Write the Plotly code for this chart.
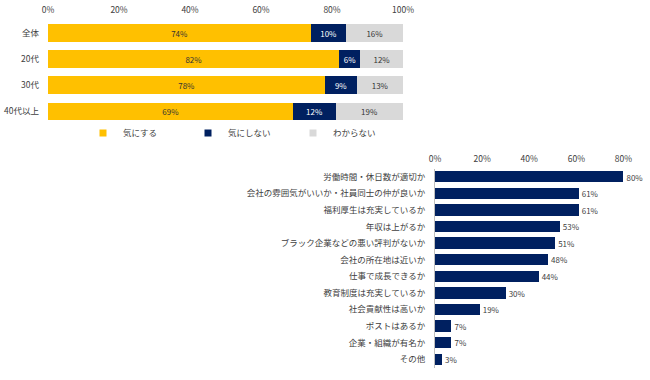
import plotly.graph_objects as go

# ---- data ----
age_groups = ["全体", "20代", "30代", "40代以上"]
care_yes = [74, 82, 78, 69]
care_no = [10, 6, 9, 12]
care_unknown = [16, 12, 13, 19]
series_names = ["気にする", "気にしない", "わからない"]

reasons = [
    "労働時間・休日数が適切か",
    "会社の雰囲気がいいか・社員同士の仲が良いか",
    "福利厚生は充実しているか",
    "年収は上がるか",
    "ブラック企業などの悪い評判がないか",
    "会社の所在地は近いか",
    "仕事で成長できるか",
    "教育制度は充実しているか",
    "社会貢献性は高いか",
    "ポストはあるか",
    "企業・組織が有名か",
    "その他",
]
reason_values = [80, 61, 61, 53, 51, 48, 44, 30, 19, 7, 7, 3]

top_ticks = [0, 20, 40, 60, 80, 100]
bottom_ticks = [0, 20, 40, 60, 80]

# ---- style ----
W, H = 650, 380
FONT = "Noto Sans CJK JP"
FS = 8.5
TXT = "#404040"
YELLOW = "#FFC000"
NAVY = "#002060"
GRAY = "#D9D9D9"
colors = [YELLOW, NAVY, GRAY]
text_colors = ["#333333", "#FFFFFF", "#333333"]

def px_x(p):
    return p / W

def px_y(p):
    return 1 - p / H

fig = go.Figure()

for name, vals, col, tc in zip(series_names, [care_yes, care_no, care_unknown], colors, text_colors):
    fig.add_trace(go.Bar(
        y=age_groups, x=vals, orientation="h", name=name,
        marker=dict(color=col, line=dict(width=0)),
        text=[f"{v}%" for v in vals], textposition="inside",
        insidetextanchor="middle",
        textfont=dict(family=FONT, size=FS, color=tc),
        xaxis="x", yaxis="y", showlegend=False, hoverinfo="skip",
    ))
    # legend proxies
    fig.add_trace(go.Scatter(
        x=[None], y=[None], mode="markers", name=name,
        marker=dict(symbol="square", size=7, color=col),
        xaxis="x", yaxis="y", showlegend=True, hoverinfo="skip",
    ))

fig.add_trace(go.Bar(
    y=reasons, x=reason_values, orientation="h",
    marker=dict(color=NAVY, line=dict(width=0)),
    text=[f"{v}%" for v in reason_values], textposition="outside",
    textfont=dict(family=FONT, size=FS, color=TXT),
    cliponaxis=False,
    xaxis="x2", yaxis="y2", showlegend=False, hoverinfo="skip",
))

axis_font = dict(family=FONT, size=FS, color=TXT)

fig.update_layout(
    width=W, height=H,
    margin=dict(l=0, r=0, t=0, b=0, autoexpand=False),
    paper_bgcolor="white", plot_bgcolor="white",
    barmode="stack",
    bargap=0.32,
    hovermode=False,
    font=dict(family=FONT, size=FS, color=TXT),
    xaxis=dict(
        domain=[px_x(48), px_x(403)], range=[0, 100], side="top",
        tickvals=top_ticks, ticktext=[f"{t}%" for t in top_ticks],
        showgrid=False, zeroline=False, showline=False, ticks="",
        tickfont=axis_font, ticklabelstandoff=4, anchor="y", automargin=False,
    ),
    yaxis=dict(
        domain=[px_y(124.5), px_y(20)], autorange="reversed",
        showgrid=False, zeroline=False, showline=False, ticks="",
        tickfont=axis_font, ticklabelstandoff=8, anchor="x", automargin=False,
    ),
    xaxis2=dict(
        domain=[px_x(435), px_x(647)], range=[0, 90], side="top",
        tickvals=bottom_ticks, ticktext=[f"{t}%" for t in bottom_ticks],
        showgrid=False, zeroline=False, showline=False, ticks="",
        tickfont=axis_font, ticklabelstandoff=4, anchor="y2", automargin=False,
    ),
    yaxis2=dict(
        domain=[px_y(367.5), px_y(168.5)], autorange="reversed",
        showgrid=False, zeroline=False, showline=True, linecolor="#BFBFBF", linewidth=1,
        ticks="", tickfont=axis_font, ticklabelstandoff=7, anchor="x2", automargin=False,
    ),
    legend=dict(
        orientation="h", x=px_x(83), y=px_y(133), xanchor="left", yanchor="middle",
        font=dict(family=FONT, size=FS, color=TXT),
        entrywidth=60, entrywidthmode="pixels", traceorder="normal",
        bgcolor="rgba(0,0,0,0)", itemclick=False, itemdoubleclick=False,
        tracegroupgap=0,
    ),
    uniformtext=dict(minsize=6, mode="show"),
)

fig.write_html(
    "out.html",
    config={"displayModeBar": False, "staticPlot": True},
    post_script="document.body.style.margin='0';document.body.style.padding='0';",
)
